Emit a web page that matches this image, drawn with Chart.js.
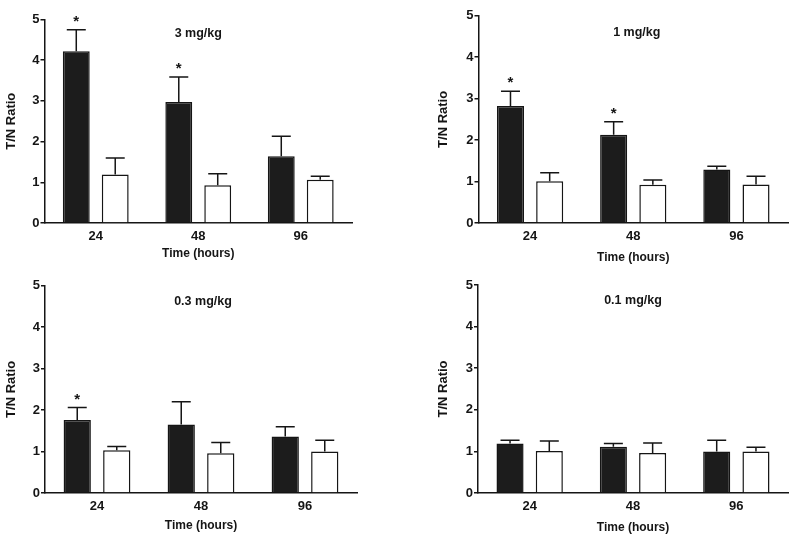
<!DOCTYPE html>
<html><head><meta charset="utf-8">
<script src="https://cdn.jsdelivr.net/npm/chart.js@4"></script>
<style>
html,body{margin:0;padding:0;background:#fff;}
#wrap{position:relative;width:800px;height:540px;overflow:hidden;}
.cell{position:absolute;width:400px;height:270px;}
canvas{display:block;}
</style></head><body>
<div id="wrap">
<div class="cell" style="left:0;top:0"><canvas id="c0" width="400" height="270"></canvas></div>
<div class="cell" style="left:400px;top:0"><canvas id="c1" width="400" height="270"></canvas></div>
<div class="cell" style="left:0;top:270px"><canvas id="c2" width="400" height="270"></canvas></div>
<div class="cell" style="left:400px;top:270px"><canvas id="c3" width="400" height="270"></canvas></div>
</div>
<script>
// ---- data ----
const categories = ['24', '48', '96'];
const yTicks = [0, 1, 2, 3, 4, 5];
const xAxisTitle = 'Time (hours)';
const yAxisTitle = 'T/N Ratio';
const panelTitles = ['3 mg/kg', '1 mg/kg', '0.3 mg/kg', '0.1 mg/kg'];

// 3 mg/kg
const treated3 = [4.22, 2.97, 1.64];
const treated3Err = [0.53, 0.62, 0.49];
const control3 = [1.19, 0.93, 1.06];
const control3Err = [0.41, 0.28, 0.09];
const signif3 = [true, true, false];

// 1 mg/kg
const treated1 = [2.82, 2.13, 1.29];
const treated1Err = [0.36, 0.31, 0.08];
const control1 = [1.01, 0.92, 0.93];
const control1Err = [0.20, 0.12, 0.20];
const signif1 = [true, true, false];

// 0.3 mg/kg
const treated03 = [1.76, 1.65, 1.36];
const treated03Err = [0.30, 0.55, 0.24];
const control03 = [1.03, 0.96, 1.00];
const control03Err = [0.09, 0.26, 0.27];
const signif03 = [true, false, false];

// 0.1 mg/kg
const treated01 = [1.19, 1.11, 1.00];
const treated01Err = [0.08, 0.08, 0.27];
const control01 = [1.01, 0.96, 1.00];
const control01Err = [0.24, 0.24, 0.10];
const signif01 = [false, false, false];

// ---- layout (per panel, canvas-local pixels) ----
const layouts = [
  {padL: 4,  padR: 48, padT: 19.5, padB: 8.8, plotLeft: 44.5, titleY: 33.5, titleDX: 0},
  {padL: 36, padR: 12, padT: 15.7, padB: 5.0, plotLeft: 78.5, titleY: 33,   titleDX: 3.5},
  {padL: 4,  padR: 43, padT: 15.7, padB: 6.8, plotLeft: 45,   titleY: 31.7, titleDX: 2},
  {padL: 36, padR: 12, padT: 15,   padB: 5.0, plotLeft: 78,   titleY: 31,   titleDX: 0}
];
const PLOT_BOTTOM = 223;
const FONT = '"Liberation Sans", Arial, Helvetica, sans-serif';
const INK = '#151515';

const panels = [
  {title: panelTitles[0], t: treated3,  te: treated3Err,  c: control3,  ce: control3Err,  s: signif3},
  {title: panelTitles[1], t: treated1,  te: treated1Err,  c: control1,  ce: control1Err,  s: signif1},
  {title: panelTitles[2], t: treated03, te: treated03Err, c: control03, ce: control03Err, s: signif03},
  {title: panelTitles[3], t: treated01, te: treated01Err, c: control01, ce: control01Err, s: signif01}
];

const errorBarPlugin = {
  id: 'errorBars',
  afterDatasetsDraw(chart) {
    const ctx = chart.ctx;
    const yScale = chart.scales.y;
    ctx.save();
    chart.data.datasets.forEach((ds, d) => {
      const meta = chart.getDatasetMeta(d);
      meta.data.forEach((bar, i) => {
        const v = ds.data[i];
        const e = ds.errorBars[i];
        const yBase = yScale.getPixelForValue(v);
        const yTop = yScale.getPixelForValue(v + e);
        const x = bar.x;
        const half = 9.5;
        ctx.strokeStyle = INK;
        ctx.lineWidth = 1.5;
        ctx.beginPath();
        ctx.moveTo(x, yBase);
        ctx.lineTo(x, yTop);
        ctx.moveTo(x - half, yTop);
        ctx.lineTo(x + half, yTop);
        ctx.stroke();
        if (ds.signif && ds.signif[i]) {
          ctx.fillStyle = INK;
          ctx.font = 'bold 15px ' + FONT;
          ctx.textAlign = 'center';
          ctx.textBaseline = 'alphabetic';
          ctx.fillText('*', x, yTop - 4);
        }
      });
    });
    ctx.restore();
  }
};

const panelTitlePlugin = {
  id: 'panelTitle',
  afterDraw(chart, args, opts) {
    const ctx = chart.ctx;
    const xs = chart.scales.x;
    ctx.save();
    ctx.fillStyle = INK;
    ctx.font = 'bold 12.5px ' + FONT;
    ctx.textAlign = 'center';
    ctx.textBaseline = 'middle';
    ctx.fillText(opts.text, xs.getPixelForValue(1) + opts.dx, opts.y);
    ctx.restore();
  }
};

panels.forEach((p, k) => {
  const L = layouts[k];
  const xHeight = 270 - L.padB - PLOT_BOTTOM;
  const yWidth = L.plotLeft - L.padL;
  new Chart(document.getElementById('c' + k), {
    type: 'bar',
    data: {
      labels: categories,
      datasets: [
        {
          label: 'Treated',
          data: p.t,
          errorBars: p.te,
          signif: p.s,
          backgroundColor: '#1c1c1c',
          borderColor: INK,
          borderWidth: 1.5,
          categoryPercentage: 0.76,
          barPercentage: 0.69
        },
        {
          label: 'Control',
          data: p.c,
          errorBars: p.ce,
          backgroundColor: '#ffffff',
          borderColor: INK,
          borderWidth: 1.5,
          categoryPercentage: 0.76,
          barPercentage: 0.69
        }
      ]
    },
    options: {
      responsive: false,
      animation: false,
      devicePixelRatio: 1,
      layout: {padding: {left: L.padL, right: L.padR, top: L.padT, bottom: L.padB}},
      plugins: {
        legend: {display: false},
        tooltip: {enabled: false},
        panelTitle: {text: p.title, y: L.titleY, dx: L.titleDX}
      },
      scales: {
        x: {
          grid: {display: false, drawTicks: false},
          border: {display: true, color: INK, width: 1.5},
          ticks: {color: INK, padding: 6, font: {family: FONT, size: 13, weight: 'bold'}},
          title: {display: true, text: xAxisTitle, color: INK, padding: 0,
                  font: {family: FONT, size: 12, weight: 'bold'}},
          afterFit(scale) { scale.height = xHeight; }
        },
        y: {
          min: 0, max: 5,
          afterBuildTicks(scale) { scale.ticks = yTicks.map(v => ({value: v})); },
          grid: {display: true, drawOnChartArea: false, drawTicks: true, tickLength: 4,
                 color: INK, lineWidth: 1.5},
          border: {display: true, color: INK, width: 1.5},
          ticks: {color: INK, padding: 1, font: {family: FONT, size: 13, weight: 'bold'}},
          title: {display: true, text: yAxisTitle, color: INK, padding: 0,
                  font: {family: FONT, size: 13, weight: 'bold'}},
          afterFit(scale) { scale.width = yWidth; }
        }
      }
    },
    plugins: [errorBarPlugin, panelTitlePlugin]
  });
});
</script>
</body></html>
